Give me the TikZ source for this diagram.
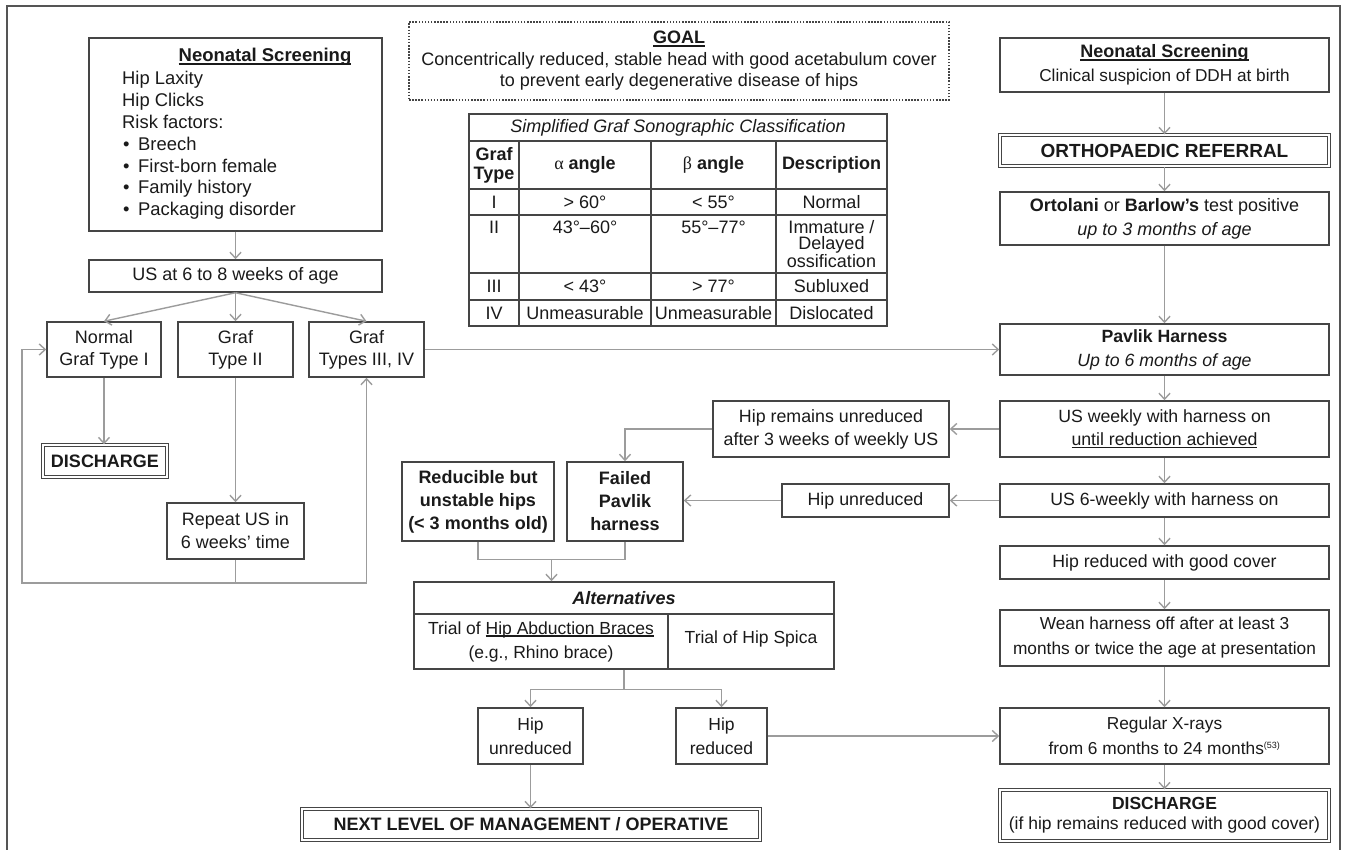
\documentclass[tikz,border=0pt]{standalone}
\usepackage{fontspec}
\setmainfont{Liberation Sans}
\newfontfamily\grk{Liberation Serif}
\usetikzlibrary{arrows.meta,calc}
\definecolor{boxc}{HTML}{454545}
\definecolor{arrc}{HTML}{9C9C9C}
\definecolor{txtc}{HTML}{1A1A1A}
\definecolor{framec}{HTML}{555555}
\newsavebox\ulbox
\newcommand\ul[1]{\sbox\ulbox{#1}\rlap{\rule[-2.6pt]{\wd\ulbox}{1.2pt}}\usebox\ulbox}
\newcommand\fsA{\fontsize{18}{23.5}\selectfont}
\newcommand\blt{\makebox[16pt][l]{\hspace{1pt}\textbullet}}
\begin{document}
\begin{tikzpicture}[x=1pt,y=-1pt,
 every node/.style={inner sep=0pt, text=txtc},
 box/.style={draw=boxc, line width=1.5pt, fill=white, align=center, font=\fsA},
 dbl/.style={box, double=white, double distance=2pt, line width=1.3pt},
 cellb/.style={draw=boxc, line width=1.5pt, align=center, font=\fsA},
 arr/.style={draw=arrc, line width=1.4pt, -{Straight Barb[length=6pt,width=11pt]}},
 ln/.style={draw=arrc, line width=1.4pt},
 framestyle/.style={draw=framec, line width=1.6pt},
 goalbox/.style={draw=boxc, line width=1.6pt, dash pattern=on 1.5pt off 1.6pt, align=center, font=\fontsize{18}{21.5}\selectfont}
]
\fill[white] (0,0) rectangle (1347,850);
\useasboundingbox (0,0) rectangle (1347,850);
\draw[framestyle] (7,850) -- (7,6) -- (1340,6) -- (1340,850);

% ---------- left column ----------
\node[box, minimum width=293, minimum height=193] (nsL) at (235.5,134.5) {};
\node[anchor=base, font=\fontsize{18.5}{22}\selectfont\bfseries] (nsLt) at (265,62) {\ul{Neonatal Screening}};
\node[anchor=base west, font=\fontsize{18.4}{21.8}\selectfont] (nsLl) at (122,85)
  {\begin{tabular}[t]{@{}l@{}}Hip Laxity\\Hip Clicks\\Risk factors:\\\blt Breech\\\blt First-born female\\\blt Family history\\\blt Packaging disorder\end{tabular}};
\node[box, minimum width=293, minimum height=32] (usL) at (235.5,276) {US at 6 to 8 weeks of age};
\node[box, minimum width=114, minimum height=55, font=\fontsize{18}{22}\selectfont] (norm) at (104,349.5) {Normal\\Graf Type I};
\node[box, minimum width=115, minimum height=55, font=\fontsize{18}{22}\selectfont] (g2) at (235.5,349.5) {Graf\\Type II};
\node[box, minimum width=115, minimum height=55, font=\fontsize{18}{22}\selectfont] (g3) at (366.5,349.5) {Graf\\Types III, IV};
\node[dbl, minimum width=124, minimum height=32, font=\fsA\bfseries] (disL) at (105,461) {DISCHARGE};
\node[box, minimum width=137, minimum height=56, font=\fontsize{18}{23}\selectfont] (rep) at (235.5,531) {Repeat US in\\6 weeks’ time};

% ---------- goal ----------
\node[goalbox, minimum width=540, minimum height=78] (goal) at (679,61)
  {\textbf{\ul{GOAL}}\\Concentrically reduced, stable head with good acetabulum cover\\to prevent early degenerative disease of hips};

% ---------- table ----------
\node[cellb, minimum width=418, minimum height=27, font=\fsA\itshape] (ttl) at (678,127.5) {Simplified Graf Sonographic Classification};
\node[cellb, minimum width=50, minimum height=48, font=\fontsize{18}{19}\selectfont\bfseries] (h1) at (494,165) {Graf\\Type};
\node[cellb, minimum width=132, minimum height=48] (h2) at (585,165) {{\grk α} \textbf{angle}};
\node[cellb, minimum width=125, minimum height=48] (h3) at (713.5,165) {{\grk β} \textbf{angle}};
\node[cellb, minimum width=111, minimum height=48, font=\fsA\bfseries] (h4) at (831.5,165) {Description};
\node[cellb, minimum width=50, minimum height=26] (a1) at (494,202) {I};
\node[cellb, minimum width=132, minimum height=26] (a2) at (585,202) {> 60°};
\node[cellb, minimum width=125, minimum height=26] (a3) at (713.5,202) {< 55°};
\node[cellb, minimum width=111, minimum height=26] (a4) at (831.5,202) {Normal};
\node[cellb, minimum width=50, minimum height=58, text height=12.5pt, text depth=33pt] (b1) at (494,244) {II};
\node[cellb, minimum width=132, minimum height=58, text height=12.5pt, text depth=33pt] (b2) at (585,244) {43°–60°};
\node[cellb, minimum width=125, minimum height=58, text height=12.5pt, text depth=33pt] (b3) at (713.5,244) {55°–77°};
\node[cellb, minimum width=111, minimum height=58, font=\fontsize{18}{15.5}\selectfont] (b4) at (831.5,244) {Immature /\\Delayed\\ossification};
\node[cellb, minimum width=50, minimum height=27] (c1) at (494,286.5) {III};
\node[cellb, minimum width=132, minimum height=27] (c2) at (585,286.5) {< 43°};
\node[cellb, minimum width=125, minimum height=27] (c3) at (713.5,286.5) {> 77°};
\node[cellb, minimum width=111, minimum height=27] (c4) at (831.5,286.5) {Subluxed};
\node[cellb, minimum width=50, minimum height=26] (d1) at (494,313) {IV};
\node[cellb, minimum width=132, minimum height=26] (d2) at (585,313) {Unmeasurable};
\node[cellb, minimum width=125, minimum height=26] (d3) at (713.5,313) {Unmeasurable};
\node[cellb, minimum width=111, minimum height=26] (d4) at (831.5,313) {Dislocated};

% ---------- right column ----------
\node[box, minimum width=329, minimum height=54] (nsR) at (1164.5,65) {\textbf{\ul{Neonatal Screening}}\\{\fontsize{17.2}{23}\selectfont Clinical suspicion of DDH at birth}};
\node[dbl, minimum width=329, minimum height=31, font=\fontsize{19}{23}\selectfont\bfseries] (ortho) at (1164.5,150.5) {ORTHOPAEDIC REFERRAL};
\node[box, minimum width=329, minimum height=53, font=\fontsize{18}{24}\selectfont] (ortol) at (1164.5,218.5) {\textbf{Ortolani} or \textbf{Barlow’s} test positive\\\textit{up to 3 months of age}};
\node[box, minimum width=329, minimum height=51, font=\fontsize{17.7}{24}\selectfont] (pav) at (1164.5,349.5) {\textbf{Pavlik Harness}\\\textit{Up to 6 months of age}};
\node[box, minimum width=329, minimum height=56, font=\fontsize{17.7}{23.3}\selectfont] (usw) at (1164.5,429) {US weekly with harness on\\\ul{until reduction achieved}};
\node[box, minimum width=329, minimum height=33, font=\fontsize{17.7}{23}\selectfont] (us6) at (1164.5,500.5) {US 6-weekly with harness on};
\node[box, minimum width=329, minimum height=33, font=\fontsize{17.7}{23}\selectfont] (hrg) at (1164.5,562.5) {Hip reduced with good cover};
\node[box, minimum width=329, minimum height=56, font=\fontsize{17.3}{25}\selectfont] (wean) at (1164.5,638) {Wean harness off after at least 3\\months or twice the age at presentation};
\node[box, minimum width=329, minimum height=56, font=\fontsize{17.3}{25}\selectfont] (xr) at (1164.5,736) {Regular X-rays\\from 6 months to 24 months\textsuperscript{\fontsize{9}{10}\selectfont(53)}};
\node[dbl, minimum width=329, minimum height=51, font=\fontsize{17.5}{20}\selectfont] (disR) at (1164.5,815.5) {\textbf{DISCHARGE}\\(if hip remains reduced with good cover)};

% ---------- middle ----------
\node[box, minimum width=236, minimum height=56, font=\fontsize{17.8}{23}\selectfont] (hrem) at (831,429) {Hip remains unreduced\\after 3 weeks of weekly US};
\node[box, minimum width=167, minimum height=33, font=\fontsize{17.8}{23}\selectfont] (hun) at (865.5,500.5) {Hip unreduced};
\node[box, minimum width=152, minimum height=79, font=\fontsize{18}{23}\selectfont\bfseries] (red) at (478,501.5) {Reducible but\\unstable hips\\(< 3 months old)};
\node[box, minimum width=116, minimum height=79, font=\fontsize{18}{23}\selectfont\bfseries] (fail) at (625,501.5) {Failed\\Pavlik\\harness};
\node[box, minimum width=420, minimum height=32, font=\fsA\bfseries\itshape] (altT) at (624,598) {Alternatives};
\node[box, minimum width=254, minimum height=55, font=\fontsize{17.5}{24}\selectfont] (altL) at (541,641.5) {Trial of \ul{Hip Abduction Braces}\\(e.g., Rhino brace)};
\node[box, minimum width=166, minimum height=55, font=\fontsize{17.5}{24}\selectfont, text depth=8pt] (altR) at (751,641.5) {Trial of Hip Spica};
\node[box, minimum width=105, minimum height=56, font=\fontsize{17.5}{24}\selectfont] (hu2) at (530.5,736) {Hip\\unreduced};
\node[box, minimum width=91, minimum height=56, font=\fontsize{17.5}{24}\selectfont] (hr2) at (721.5,736) {Hip\\reduced};
\node[dbl, minimum width=458, minimum height=31, font=\fontsize{18}{23}\selectfont\bfseries] (next) at (531,824.5) {NEXT LEVEL OF MANAGEMENT / OPERATIVE};

% ---------- connectors: left ----------
\draw[arr] (nsL.south) -- (usL.north);
\draw[arr] (usL.south) -- (norm.north);
\draw[arr] (usL.south) -- (g2.north);
\draw[arr] (usL.south) -- (g3.north);
\draw[arr] (norm.south) -- (norm.south |- disL.north);
\draw[arr] (g2.south) -- (rep.north);
\coordinate (lpL) at (22,583);
\draw[ln] (rep.south) -- (rep.south |- lpL);
\draw[arr] (rep.south |- lpL) -- (lpL) |- (norm.west);
\draw[arr] (rep.south |- lpL) -| (g3.south);
\draw[arr] (g3.east) -- (pav.west);

% ---------- connectors: right ----------
\draw[arr] (nsR.south) -- (ortho.north);
\draw[arr] (ortho.south) -- (ortol.north);
\draw[arr] (ortol.south) -- (pav.north);
\draw[arr] (pav.south) -- (usw.north);
\draw[arr] (usw.south) -- (us6.north);
\draw[arr] (us6.south) -- (hrg.north);
\draw[arr] (hrg.south) -- (wean.north);
\draw[arr] (wean.south) -- (xr.north);
\draw[arr] (xr.south) -- (disR.north);
\draw[arr] (usw.west) -- (hrem.east);
\draw[arr] (us6.west) -- (hun.east);

% ---------- connectors: middle ----------
\draw[arr] (hrem.west) -| (fail.north);
\draw[arr] (hun.west) -- (hun.west -| fail.east);
\coordinate (mL) at ($(red.south)+(0,18)$);
\draw[ln] (red.south) -- (mL) -| (fail.south);
\coordinate (mg) at ($(mL)!0.5!(mL -| fail.south)$);
\draw[arr] (mg) -- (mg |- altT.north);
\coordinate (ab) at (altT.south |- altL.south);
\coordinate (ab2) at ($(ab)+(0,20)$);
\draw[ln] (ab) -- (ab2);
\draw[arr] (ab2) -| (hu2.north);
\draw[arr] (ab2) -| (hr2.north);
\draw[arr] (hu2.south) -- (hu2.south |- next.north);
\draw[arr] (hr2.east) -- (hr2.east -| xr.west);
\end{tikzpicture}
\end{document}
